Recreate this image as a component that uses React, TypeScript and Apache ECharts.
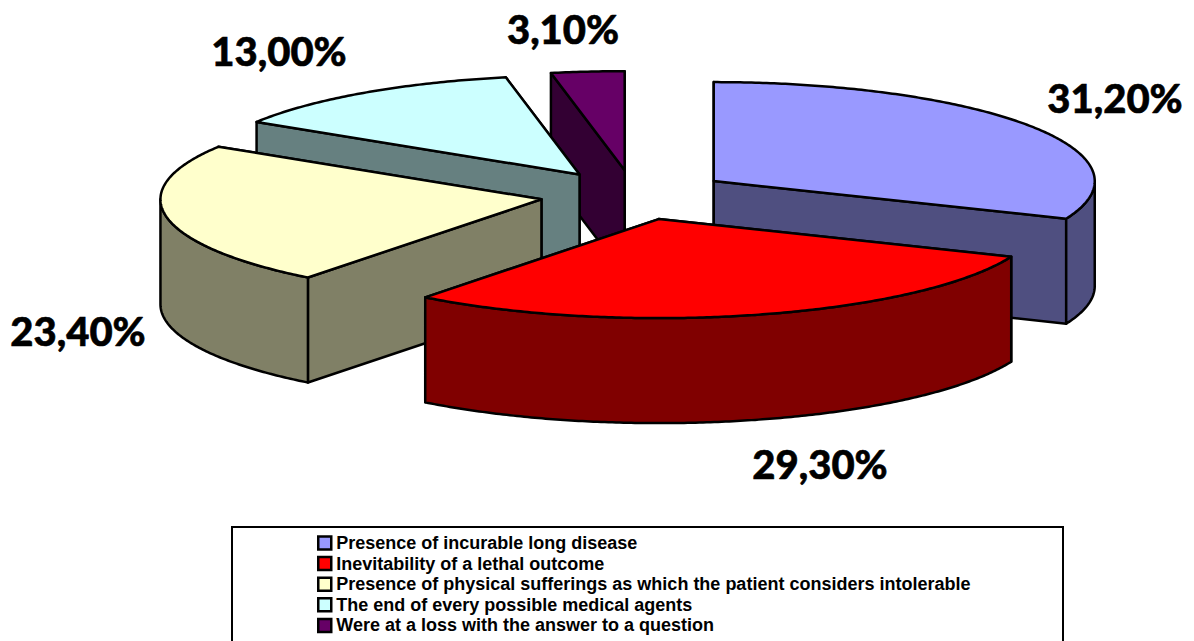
import React, { useEffect, useRef } from "react";
import * as echarts from "echarts";

const categories = [
  "Presence of incurable long disease",
  "Inevitability of a lethal outcome",
  "Presence of physical sufferings as which the patient considers intolerable",
  "The end of every possible medical agents",
  "Were at a loss with the answer to a question",
];
const values = [31.2, 29.3, 23.4, 13.0, 3.1];
const topColors = ["#9999FF", "#FF0000", "#FFFFCC", "#CCFFFF", "#660066"];
const sideColors = ["#4F4F80", "#800000", "#808066", "#668080", "#330033"];
const drawOrder = [4, 3, 2, 0, 1];

const CX = 634;
const CY = 195;
const RX = 381;
const RY = 99;
const DEPTH = 105;
const explode = [96, 96, 94, 96, 96];
const labelSpots: [number, number][] = [
  [1115, 98],
  [820, 464],
  [78, 331],
  [279, 51],
  [563, 29],
];

const total = values.reduce((a, b) => a + b, 0);
const frac = (i: number) =>
  values.slice(0, i).reduce((a, b) => a + b, 0) / total;

function makeSeries(i: number) {
  const a0 = frac(i) * Math.PI * 2;
  const a1 = frac(i + 1) * Math.PI * 2;
  const mid = (a0 + a1) / 2;
  const ax = CX + explode[i] * Math.sin(mid);
  const ay = CY - (explode[i] * RY * Math.cos(mid)) / RX;
  const pt = (a: number, dz = 0): [number, number] => [
    ax + RX * Math.sin(a),
    ay - RY * Math.cos(a) + dz,
  ];
  const arc = (s: number, e: number, dz = 0) => {
    const n = Math.max(2, Math.ceil(Math.abs(e - s) / 0.01));
    const pts: [number, number][] = [];
    for (let k = 0; k <= n; k++) pts.push(pt(s + ((e - s) * k) / n, dz));
    return pts;
  };
  const border = {
    stroke: "#000",
    lineWidth: 2.5,
    lineJoin: "round",
  };
  const poly = (points: [number, number][], fill: string) => ({
    type: "polygon",
    shape: { points },
    style: { fill, ...border },
  });
  const wall = (a: number) =>
    poly(
      [[ax, ay], pt(a), pt(a, DEPTH), [ax, ay + DEPTH]],
      sideColors[i]
    );

  return {
    type: "custom",
    name: categories[i],
    coordinateSystem: "none",
    z: 2 + drawOrder.indexOf(i),
    silent: true,
    itemStyle: { color: topColors[i], borderColor: "#000", borderWidth: 2.5 },
    data: [[values[i]]],
    renderItem: (_params: any, api: any) => {
      const children: any[] = [wall(a1), wall(a0)];
      const rs = Math.max(a0, Math.PI / 2);
      const re = Math.min(a1, (Math.PI * 3) / 2);
      if (re > rs) {
        children.push(
          poly([...arc(rs, re), ...arc(re, rs, DEPTH)], sideColors[i])
        );
      }
      children.push(poly([[ax, ay], ...arc(a0, a1)], topColors[i]));
      children.push({
        type: "text",
        x: labelSpots[i][0],
        y: labelSpots[i][1],
        style: {
          text: api.value(0).toFixed(2).replace(".", ",") + "%",
          font: '900 40px Lato, "Open Sans", sans-serif',
          fill: "#000",
          stroke: "#000",
          lineWidth: 0.6,
          align: "center",
          verticalAlign: "middle",
        },
      });
      return { type: "group", children };
    },
  };
}

export default function App() {
  const ref = useRef<HTMLDivElement>(null);
  useEffect(() => {
    document.body.style.margin = "0";
    const chart = echarts.init(ref.current!, undefined, { renderer: "svg" });
    chart.setOption({
      animation: false,
      backgroundColor: "#fff",
      graphic: [
        {
          type: "rect",
          shape: { x: 232, y: 527, width: 831, height: 120 },
          style: { fill: "#fff", stroke: "#000", lineWidth: 2 },
          z: 0,
        },
      ],
      legend: {
        orient: "vertical",
        left: 317,
        top: 534,
        z: 10,
        padding: 0,
        selectedMode: false,
        icon: "rect",
        itemWidth: 13,
        itemHeight: 13,
        itemGap: 2.6,
        data: categories,
        itemStyle: { borderColor: "#000", borderWidth: 2.5 },
        textStyle: {
          color: "#000",
          fontFamily: '"Liberation Sans", Arial, sans-serif',
          fontWeight: "bold",
          fontSize: 18,
          lineHeight: 17,
          padding: [0, 0, 0, 0],
        },
      },
      series: categories.map((_, i) => makeSeries(i)),
    });
    return () => chart.dispose();
  }, []);
  return (
    <div
      ref={ref}
      style={{ position: "fixed", left: 0, top: 0, width: 1194, height: 641 }}
    />
  );
}
